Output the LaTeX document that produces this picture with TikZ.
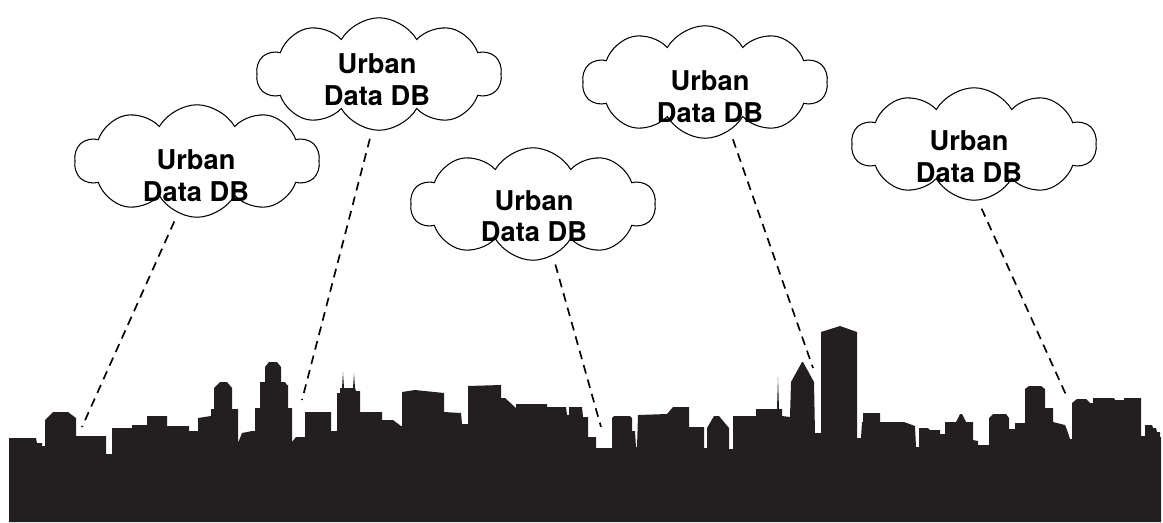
\documentclass[tikz,border=0pt]{standalone}
\usepackage{fontspec}
\usepackage{xcolor}
\usepackage{tikz}
\usetikzlibrary{shapes.symbols}
\setmainfont{TeX Gyre Heros}
\definecolor{skyline}{RGB}{35,31,32}
\tikzset{
  dbcloud/.style={cloud, cloud puffs=10, cloud puff arc=120, aspect=2.2, draw, fill=white,
    line width=0.6pt, minimum width=4.9cm, minimum height=2.25cm, inner sep=0pt},
  dbtext/.style={font=\fontsize{15.5}{18}\selectfont\bfseries, align=center, inner sep=0pt},
  datalink/.style={dash pattern=on 5pt off 3.5pt, line width=0.95pt, shorten <=5pt}
}

\begin{document}
\begin{tikzpicture}[x=0.02cm,y=-0.02cm]
      \path[use as bounding box] (0,0) rectangle (1163,522); % one unit per pixel

      % city silhouette, left to right
      \fill[skyline] (9,522) -- (9,438) -- (36,438) -- (37,443) -- (42,443) -- (42,446) -- (45,446)
        -- (45,420) -- (53,412) -- (68,412) -- (76,418) -- (76,436) -- (106,436) -- (106,454)
        -- (112,454) -- (112,428) -- (132,428) -- (132,425) -- (147,425) -- (147,416) -- (167,416)
        -- (167,426) -- (189,426) -- (189,431) -- (198,431) -- (198,418) -- (211,416) -- (211,409)
        -- (214,409) -- (214,388) -- (220,382) -- (227,382) -- (232,388) -- (232,409) -- (238,409)
        -- (238,443) -- (242,433) -- (252,431) -- (255,431) -- (255,408) -- (260,408) -- (260,382)
        -- (265,382) -- (265,367) -- (269,362) -- (277,362) -- (281,367) -- (281,382) -- (285,382)
        -- (287,385) -- (288,385) -- (288,408) -- (292,408) -- (292,442) -- (296,437) -- (305,437)
        -- (305,412) -- (331,412) -- (331,431) -- (337,431) -- (337,393) -- (340,393) -- (340,388)
        -- (342,388) -- (343,372) -- (344,388) -- (353,388) -- (354,373) -- (355,388) -- (356,391)
        -- (360,391) -- (360,412) -- (382,412) -- (382,420) -- (393,420) -- (401,426) -- (402,426)
        -- (402,392) -- (415,390) -- (444,393) -- (444,412) -- (461,413) -- (462,424) -- (468,424)
        -- (468,386) -- (501,385) -- (501,398) -- (505,398) -- (516,408) -- (516,404) -- (547,404)
        -- (547,407) -- (566,407) -- (567,415) -- (569,415) -- (569,407) -- (582,407) -- (583,417)
        -- (588,417) -- (588,437) -- (596,437) -- (596,448) -- (612,448) -- (612,418) -- (614,416)
        -- (630,416) -- (632,418) -- (632,431) -- (635,431) -- (636,447) -- (637,447) -- (638,415)
        -- (667,414) -- (673,407) -- (689,407) -- (689,427) -- (704,427) -- (704,448) -- (707,448)
        -- (707,428) -- (714,416) -- (719,416) -- (729,428) -- (729,449) -- (733,449) -- (733,416)
        -- (756,416) -- (756,409) -- (777,409) -- (778,377) -- (779,409) -- (782,409) -- (782,416)
        -- (790,417) -- (791,382) -- (802,362) -- (803,362) -- (814,382) -- (815,433) -- (821,433)
        -- (821,332) -- (840,326) -- (857,332) -- (857,438) -- (861,438) -- (862,422) -- (863,422)
        -- (863,413) -- (880,413) -- (880,422) -- (904,422) -- (915,426) -- (916,447) -- (919,447)
        -- (919,428) -- (928,428) -- (930,430) -- (940,430) -- (940,434) -- (945,434) -- (945,422)
        -- (956,422) -- (960,414) -- (962,414) -- (966,422) -- (973,422) -- (973,440) -- (978,441)
        -- (978,445) -- (989,445) -- (989,418) -- (993,414) -- (1006,414) -- (1009,418) -- (1009,429)
        -- (1015,429) -- (1015,423) -- (1025,423) -- (1025,389) -- (1029,386) -- (1041,386)
        -- (1045,389) -- (1045,408) -- (1053,408) -- (1053,422) -- (1065,425) -- (1067,430)
        -- (1070,439) -- (1072,439) -- (1072,403) -- (1077,399) -- (1086,399) -- (1090,403)
        -- (1093,403) -- (1093,398) -- (1114,398) -- (1115,400) -- (1124,400) -- (1124,398)
        -- (1141,398) -- (1141,436) -- (1145,436) -- (1145,425) -- (1152,425) -- (1153,428)
        -- (1156,428) -- (1157,432) -- (1160,432) -- (1160,437) -- (1161,437) -- (1161,522) -- cycle;

      % rooftops the links come down to
      \coordinate (roof1) at (82,427);
      \coordinate (roof2) at (302,400);
      \coordinate (roof3) at (601,427);
      \coordinate (roof4) at (813,368);
      \coordinate (roof5) at (1067,397);

      \node[dbcloud] (cloud1) at (197,161) {};
      \node[dbcloud] (cloud2) at (379,74) {};
      \node[dbcloud] (cloud3) at (533,204) {};
      \node[dbcloud] (cloud4) at (705,82) {};
      \node[dbcloud] (cloud5) at (974,144) {};

      \node[dbtext] (db1) at (196,176) {Urban\\Data DB};
      \node[dbtext] (db2) at (377,80) {Urban\\Data DB};
      \node[dbtext] (db3) at (534,216) {Urban\\Data DB};
      \node[dbtext] (db4) at (710,97) {Urban\\Data DB};
      \node[dbtext] (db5) at (969,157) {Urban\\Data DB};

      \draw[datalink] (cloud1.250) -- (roof1);
      \draw[datalink] (cloud2.263) -- (roof2);
      \draw[datalink] (cloud3.291) -- (roof3);
      \draw[datalink] (cloud4.297) -- (roof4);
      \draw[datalink] (cloud5.274) -- (roof5);
    \end{tikzpicture}
\end{document}
